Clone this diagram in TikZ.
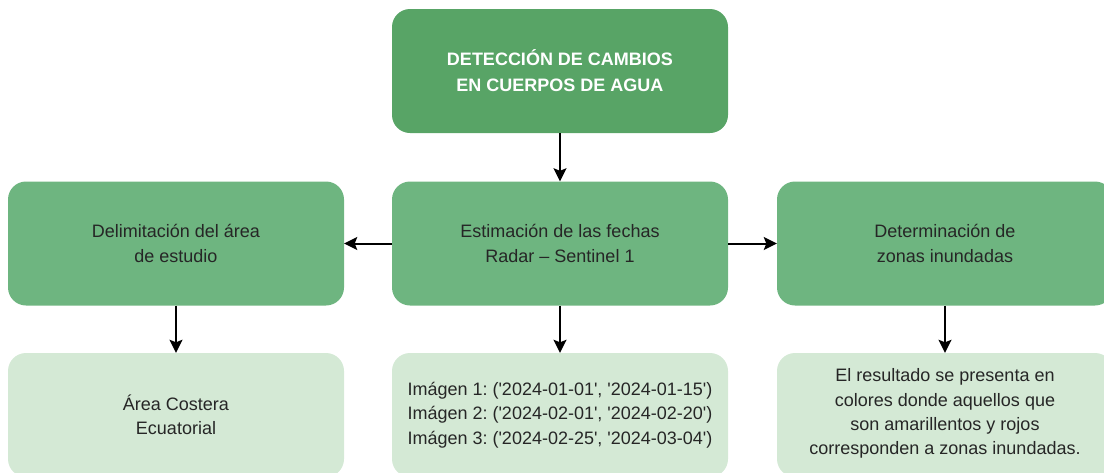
\documentclass[tikz,border=0pt]{standalone}
\usepackage{fontspec}
\setmainfont{Liberation Sans}
\usetikzlibrary{arrows.meta}
\definecolor{topgreen}{HTML}{58A466}
\definecolor{midgreen}{HTML}{6EB580}
\definecolor{lightgreen}{HTML}{D4E9D5}
\definecolor{txt}{HTML}{262626}
\newcommand{\sq}{\textquotesingle}
\tikzset{
  box/.style={rounded corners=18pt, minimum width=336pt, minimum height=124pt, align=center, inner sep=0pt,
    font=\fontsize{18}{24.3}\selectfont\frenchspacing},
  topbox/.style={box, fill=topgreen, text=white, font=\fontsize{18}{26}\selectfont\bfseries},
  midbox/.style={box, fill=midgreen, text=txt},
  lowbox/.style={box, fill=lightgreen, text=txt},
  conn/.style={draw=black, line width=2pt, -{Stealth[length=13pt, width=13pt, inset=2.5pt]}}
}
\begin{document}
\begin{tikzpicture}[x=1pt, y=-1pt]
\useasboundingbox (0,0) rectangle (1104,472);
\clip (0,0) rectangle (1104,472);
\node[topbox] (top) at (560,71) {DETECCIÓN DE CAMBIOS\\EN CUERPOS DE AGUA};
\node[midbox] (del) at (176,243.5) {Delimitación del área\\de estudio};
\node[midbox] (est) at (560,243.5) {Estimación de las fechas\\Radar – Sentinel 1};
\node[midbox] (det) at (945,243.5) {Determinación de\\zonas inundadas};
\node[lowbox] (area) at (176,415) {Área Costera\\Ecuatorial};
\node[lowbox] (img) at (560,415) {Imágen 1: (\sq2024-01-01\sq, \sq2024-01-15\sq)\\Imágen 2: (\sq2024-02-01\sq, \sq2024-02-20\sq)\\Imágen 3: (\sq2024-02-25\sq, \sq2024-03-04\sq)};
\node[lowbox] (res) at (945,415) {\raisebox{0pt}{}El resultado se presenta en\\colores donde aquellos que\\son amarillentos y rojos\\corresponden a zonas inundadas.\vspace{3pt}};
\draw[conn] (top) -- (est);
\draw[conn] (est) -- (del);
\draw[conn] (est) -- (det);
\draw[conn] (del) -- (area);
\draw[conn] (est) -- (img);
\draw[conn] (det) -- (res);
\end{tikzpicture}
\end{document}
